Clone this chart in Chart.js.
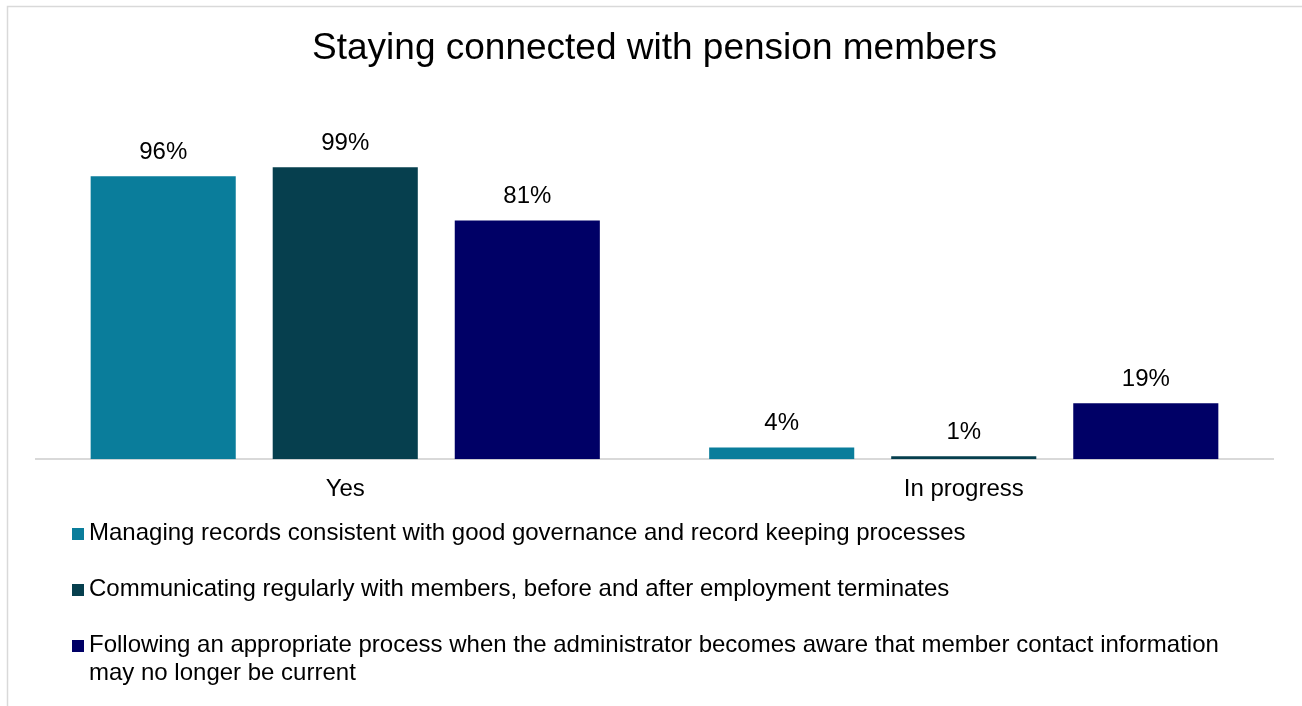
<!DOCTYPE html>
<html>
<head>
<meta charset="utf-8">
<title>Staying connected with pension members</title>
<script src="https://cdn.jsdelivr.net/npm/chart.js@4/dist/chart.umd.min.js"></script>
<style>
  html, body { margin: 0; padding: 0; background: #ffffff; }
  #wrap { position: relative; width: 1302px; height: 706px; }
</style>
</head>
<body>
<div id="wrap"><canvas id="chart" width="1302" height="706"></canvas></div>
<script>
// Survey responses (percent of plans)
const categories = ['Yes', 'In progress'];
const seriesNames = [
  'Managing records consistent with good governance and record keeping processes',
  'Communicating regularly with members, before and after employment terminates',
  'Following an appropriate process when the administrator becomes aware that member contact information may no longer be current'
];
const managingRecords = [96, 4];
const communicating = [99, 1];
const followingProcess = [81, 19];
const seriesColors = ['#0a7d9b', '#063f4e', '#000066'];

const FONT = '"Liberation Sans", Arial, Helvetica, sans-serif';

// Light frame around the whole figure
const framePlugin = {
  id: 'frame',
  beforeDraw(chart) {
    const ctx = chart.ctx;
    ctx.save();
    ctx.fillStyle = '#ffffff';
    ctx.fillRect(0, 0, chart.width, chart.height);
    ctx.strokeStyle = '#d9d9d9';
    ctx.lineWidth = 1.5;
    ctx.strokeRect(7.5, 6.5, chart.width + 20, chart.height + 20);
    ctx.restore();
  }
};

// Percent labels above each bar
const valueLabelPlugin = {
  id: 'valueLabels',
  afterDatasetsDraw(chart) {
    const ctx = chart.ctx;
    ctx.save();
    ctx.font = '24px ' + FONT;
    ctx.fillStyle = '#000000';
    ctx.textAlign = 'center';
    ctx.textBaseline = 'alphabetic';
    chart.data.datasets.forEach((ds, di) => {
      const meta = chart.getDatasetMeta(di);
      meta.data.forEach((bar, i) => {
        ctx.fillText(ds.data[i] + '%', bar.x, bar.y - 17);
      });
    });
    ctx.restore();
  }
};

// Stacked legend below the axis, one series per row, wrapping long names
const stackedLegendPlugin = {
  id: 'stackedLegend',
  afterDraw(chart, args, opts) {
    const ctx = chart.ctx;
    ctx.save();
    ctx.font = opts.fontSize + 'px ' + FONT;
    ctx.textBaseline = 'middle';
    ctx.textAlign = 'left';
    let y = opts.top;
    chart.data.datasets.forEach((ds) => {
      ctx.fillStyle = ds.backgroundColor;
      ctx.fillRect(opts.boxX, y - opts.boxSize / 2 + 1, opts.boxSize, opts.boxSize);
      const words = ds.label.split(' ');
      const lines = [];
      let line = '';
      words.forEach((w) => {
        const test = line ? line + ' ' + w : w;
        if (ctx.measureText(test).width > opts.maxWidth && line) {
          lines.push(line);
          line = w;
        } else {
          line = test;
        }
      });
      lines.push(line);
      ctx.fillStyle = '#000000';
      lines.forEach((l, k) => {
        ctx.fillText(l, opts.textX, y + k * opts.lineHeight);
      });
      y += opts.rowGap + (lines.length - 1) * opts.lineHeight;
    });
    ctx.restore();
  }
};

const seriesValues = [managingRecords, communicating, followingProcess];

new Chart(document.getElementById('chart'), {
  type: 'bar',
  data: {
    labels: categories,
    datasets: seriesNames.map((name, i) => ({
      label: name,
      data: seriesValues[i],
      backgroundColor: seriesColors[i],
      borderWidth: 0,
      categoryPercentage: 0.883,
      barPercentage: 0.797
    }))
  },
  options: {
    responsive: false,
    animation: false,
    devicePixelRatio: 1,
    layout: { padding: { left: 36, right: 29, top: 0, bottom: 186 } },
    plugins: {
      legend: { display: false },
      tooltip: { enabled: false },
      title: {
        display: true,
        text: 'Staying connected with pension members',
        color: '#000000',
        font: { family: FONT, size: 37, weight: 'normal' },
        padding: { top: 27, bottom: 93 }
      },
      stackedLegend: {
        top: 533,
        boxX: 72,
        boxSize: 12,
        textX: 89,
        fontSize: 24,
        lineHeight: 28,
        rowGap: 56,
        maxWidth: 1150
      }
    },
    scales: {
      x: {
        grid: { display: false, drawTicks: false },
        border: { display: true, color: '#d9d9d9', width: 2 },
        ticks: {
          color: '#000000',
          padding: 16,
          font: { family: FONT, size: 24 }
        }
      },
      y: {
        display: false,
        min: 0,
        max: 100
      }
    }
  },
  plugins: [framePlugin, valueLabelPlugin, stackedLegendPlugin]
});
</script>
</body>
</html>
